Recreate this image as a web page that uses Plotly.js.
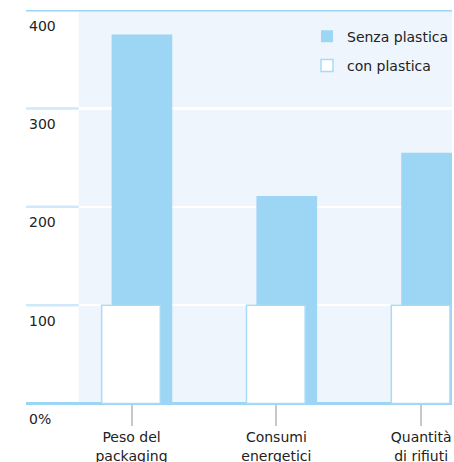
<!DOCTYPE html>
<html>
<head>
<meta charset="utf-8">
<script src="https://cdn.plot.ly/plotly-3.0.1.min.js"></script>
<style>html,body{margin:0;padding:0;background:#fff}#chart{width:454px;height:462px}</style>
</head>
<body>
<div id="chart"></div>
<script>
const categories = ["Peso del<br>packaging", "Consumi<br>energetici", "Quantità<br>di rifiuti"];
const senzaPlastica = [375, 211, 255];
const conPlastica = [100, 100, 100];
const yTickVals = [0, 100, 200, 300, 400];
const yTickText = ["0%", "100", "200", "300", "400"];

const BLUE = "#9dd5f4";
const BG = "#eef5fc";
const LIGHTLINE = "#cfe9f9";
const bgStart = 0.1238; // paper x where the shaded panel begins
const yMin = -35, yMax = 400;

const traces = [
  {
    type: "bar", name: "Senza plastica", x: categories, y: senzaPlastica,
    width: 0.419, offset: -0.1375, legendgroup: "a",
    marker: {color: BLUE, line: {width: 0}},
    hoverinfo: "skip"
  },
  {
    type: "bar", name: "con plastica", x: categories, y: conPlastica,
    width: 0.405, offset: -0.206, legendgroup: "b",
    marker: {color: "#ffffff", line: {color: "#a9dbf6", width: 1.5}},
    hoverinfo: "skip"
  }
];

const shapes = [
  {type: "rect", xref: "paper", yref: "y", x0: bgStart, x1: 1, y0: 0, y1: yMax,
   fillcolor: BG, line: {width: 0}, layer: "below"},
  {type: "line", xref: "paper", yref: "y", x0: 0, x1: 1, y0: yMax, y1: yMax,
   line: {color: BLUE, width: 3}, layer: "above"}
];
yTickVals.filter(v => v > 0 && v < yMax).forEach(v => {
  shapes.push({type: "line", xref: "paper", yref: "y", x0: 0, x1: bgStart, y0: v, y1: v,
    line: {color: LIGHTLINE, width: 2.5}, layer: "above"});
});

const FONT = "'DejaVu Sans', sans-serif";

const layout = {
  width: 454, height: 462,
  margin: {l: 26, r: 0, t: 10, b: 24, pad: 0},
  paper_bgcolor: "#ffffff", plot_bgcolor: "rgba(0,0,0,0)",
  font: {family: FONT, size: 14, color: "#222222"},
  barmode: "overlay",
  showlegend: true,
  legend: {x: 0.66, y: 0.975, xanchor: "left", yanchor: "top", bgcolor: "rgba(0,0,0,0)",
           font: {family: FONT, size: 14, color: "#222"}, tracegroupgap: 8, traceorder: "grouped"},
  xaxis: {
    type: "category", range: [-0.7285, 2.213], showgrid: false, zeroline: false,
    anchor: "free", position: (0 - yMin) / (yMax - yMin),
    ticks: "outside", ticklen: 21, tickwidth: 2, tickcolor: "#c8c8c8",
    showline: false, tickfont: {family: FONT, size: 14, color: "#222"}, fixedrange: true
  },
  yaxis: {
    range: [yMin, yMax], tickvals: yTickVals, ticktext: yTickText,
    showgrid: true, gridcolor: "#ffffff", gridwidth: 2.5,
    zeroline: true, zerolinecolor: BLUE, zerolinewidth: 2.5,
    ticks: "", showline: false, ticklabelposition: "inside bottom", ticklabelshift: 6,
    tickfont: {family: FONT, size: 14, color: "#222"}, fixedrange: true
  },
  shapes: shapes
};

Plotly.newPlot("chart", traces, layout, {staticPlot: true, displayModeBar: false});
</script>
</body>
</html>
